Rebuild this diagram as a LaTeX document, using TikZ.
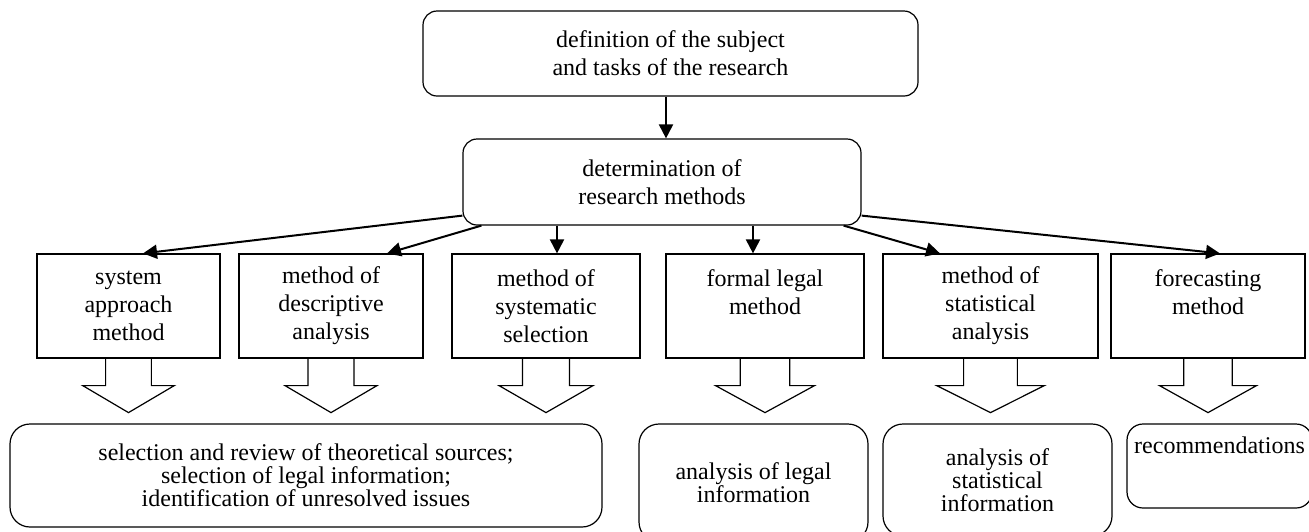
\documentclass[tikz,border=0pt]{standalone}
\usepackage{fontspec}
\setmainfont{Liberation Serif}
\usetikzlibrary{arrows.meta}

\begin{document}
\begin{tikzpicture}[x=0.5pt,y=-0.5pt,line width=0.6pt,
  font=\fontsize{12}{14}\selectfont,
  every node/.style={align=center,inner sep=0pt},
  rbox/.style={draw,rounded corners=7pt},
  mbox/.style={draw,minimum height=52pt},
  resbox/.style={draw,rounded corners=10pt,font=\fontsize{12}{11.5}\selectfont},
  arr/.style={draw,line width=1pt,-{Triangle[length=7pt,width=7pt]}}]
\useasboundingbox (0,0) rectangle (1309,531);

\node[rbox,minimum width=247.5pt,minimum height=42.5pt] (top) at (670.5,53.5) {definition of the subject\\and tasks of the research};
\node[rbox,minimum width=199pt,minimum height=43pt] (det) at (662,182) {determination of\\research methods};
\path[arr] ([xshift=-2.25pt]top.south) -- ([xshift=-2.25pt]top.south |- det.north);

\node[mbox,minimum width=91.5pt] (m1) at (128.5,306) {system\\approach\\method};
\node[mbox,minimum width=92pt] (m2) at (331,306) {method of\\descriptive\\analysis};
\node[mbox,minimum width=94pt] (m3) at (546,306) {method of\\systematic\\selection};
\node[mbox,minimum width=99pt] (m4) at (765,306) {formal legal\\method\\ \mbox{}};
\node[mbox,minimum width=107.5pt] (m5) at (990.5,306) {method of\\statistical\\analysis};
\node[mbox,minimum width=97pt] (m6) at (1208,306) {forecasting\\method\\ \mbox{}};

\path[arr] ([yshift=5pt]det.south west) -- ([xshift=7.25pt]m1.north);
\path[arr] ([xshift=9.5pt]det.south west) -- ([xshift=28pt]m2.north);
\path[arr] ([xshift=5.5pt]m3.north |- det.south) -- ([xshift=5.5pt]m3.north);
\path[arr] ([xshift=-6pt]m4.north |- det.south) -- ([xshift=-6pt]m4.north);
\path[arr] ([xshift=-9pt]det.south east) -- ([xshift=-25.25pt]m5.north);
\path[arr] ([yshift=5pt]det.south east) -- ([xshift=6pt]m6.north);

% hollow block arrows under the methods
\foreach \n/\w in {m1/183,m2/184,m3/188,m4/198,m5/215,m6/194}
  \draw (\n.south) ++(-\w/8,0) -- ++(0,27) -- ++(-\w/8,0) -- ++(\w/4,27)
    -- ++(\w/4,-27) -- ++(-\w/8,0) -- ++(0,-27);

\node[resbox,minimum width=296pt,minimum height=51.5pt] (b1) at (306,475.5) {selection and review of theoretical sources;\\selection of legal information;\\identification of unresolved issues};
\node[resbox,minimum width=114.5pt,minimum height=59pt] (b2) at (753.5,483) {analysis of legal\\information};
\node[resbox,minimum width=114.5pt,minimum height=56pt] (b3) at (997.5,480) {analysis of\\statistical\\information};
\node[resbox,rounded corners=8pt,minimum width=92.5pt,minimum height=42pt,text height=8.5pt,text depth=21.5pt] (b4) at (1219.5,466) {recommendations};
\end{tikzpicture}
\end{document}
